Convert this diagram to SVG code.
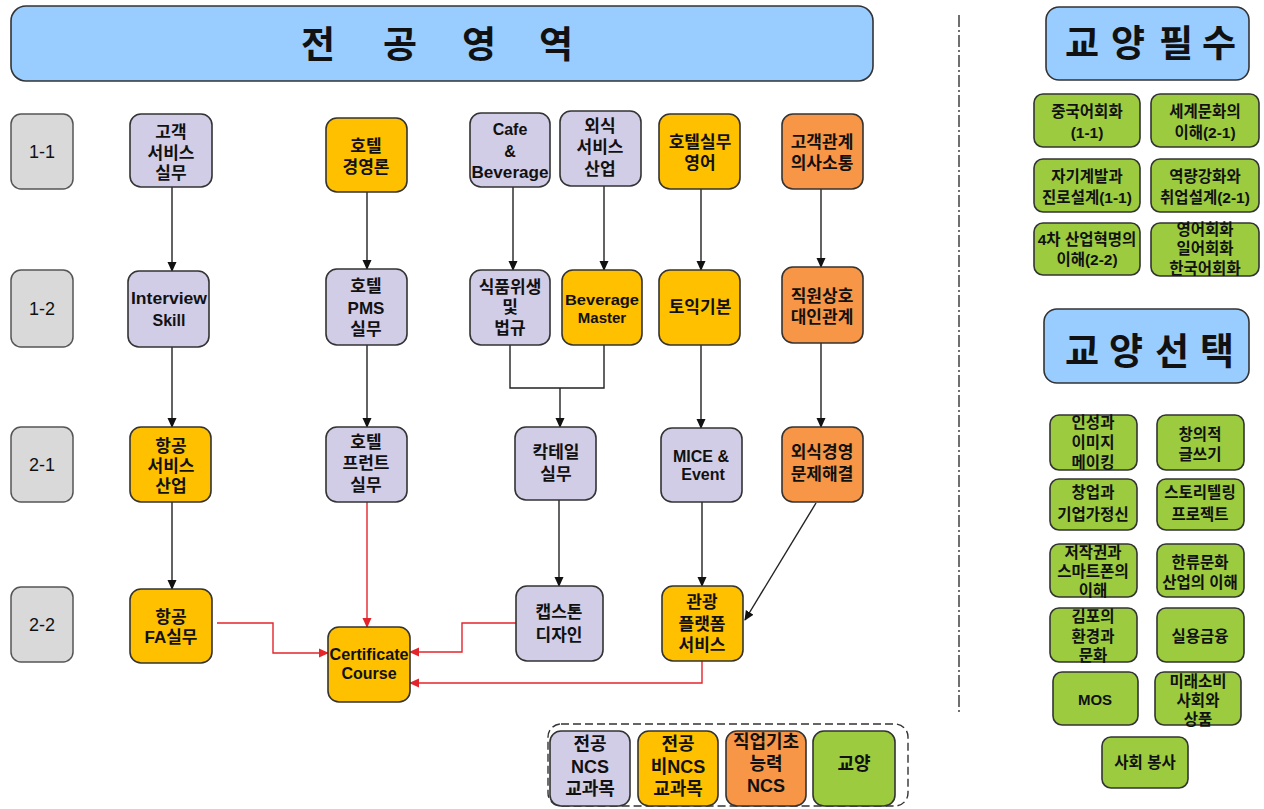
<svg xmlns="http://www.w3.org/2000/svg" width="1264" height="809" viewBox="0 0 1264 809">
<style>
.n{stroke:#333;stroke-width:1.6}
.lav{fill:#d2cde6}
.yel{fill:#ffc000}
.org{fill:#f79646}
.grn{fill:#9ccb3f}
.gray{fill:#d9d9d9;stroke:#555;stroke-width:1.5}
.blue{fill:#99ccff;stroke:#333;stroke-width:1.6}
text{font-family:"Liberation Sans","Noto Sans CJK KR",sans-serif;text-anchor:middle;fill:#111}
.t{font-size:17px;font-weight:700}
.e{font-size:16px;font-weight:700}
.g{font-size:15.5px;font-weight:700}
.L{font-size:18px;font-weight:700}
.lbl{font-size:18px}
.h{font-family:"Noto Sans CJK KR",sans-serif;font-size:37px;font-weight:700}
.k{fill:none;stroke:#222;stroke-width:1.4}
.r{fill:none;stroke:#e3242b;stroke-width:1.4}
</style>
<defs>
<marker id="ab" markerWidth="10" markerHeight="10" refX="9" refY="5" orient="auto" markerUnits="userSpaceOnUse"><path d="M0,0.5 L10,5 L0,9.5 z" fill="#111"/></marker>
<marker id="ar" markerWidth="10" markerHeight="10" refX="9" refY="5" orient="auto" markerUnits="userSpaceOnUse"><path d="M0,0.5 L10,5 L0,9.5 z" fill="#e3242b"/></marker>
</defs>

<g id="header-major"><rect class="blue" x="11" y="6" width="862" height="75" rx="15"/>
<text class="h" y="58"><tspan x="318">전</tspan><tspan x="400">공</tspan><tspan x="479">영</tspan><tspan x="556">역</tspan></text></g>

<g id="sem-1-1"><rect class="gray" x="11" y="114" width="62" height="75" rx="10"/><text class="lbl" x="42" y="158">1-1</text></g>
<g id="sem-1-2"><rect class="gray" x="11" y="270" width="62" height="77" rx="10"/><text class="lbl" x="42" y="315">1-2</text></g>
<g id="sem-2-1"><rect class="gray" x="11" y="427" width="62" height="75" rx="10"/><text class="lbl" x="42" y="471">2-1</text></g>
<g id="sem-2-2"><rect class="gray" x="11" y="587" width="62" height="75" rx="10"/><text class="lbl" x="42" y="631">2-2</text></g>

<g id="connectors">
<line class="k" x1="172" y1="187" x2="172" y2="271" marker-end="url(#ab)"/>
<line class="k" x1="172" y1="347" x2="172" y2="427" marker-end="url(#ab)"/>
<line class="k" x1="172" y1="502" x2="172" y2="589" marker-end="url(#ab)"/>
<line class="k" x1="367" y1="192" x2="367" y2="269" marker-end="url(#ab)"/>
<line class="k" x1="367" y1="345" x2="367" y2="427" marker-end="url(#ab)"/>
<line class="k" x1="513" y1="187" x2="513" y2="270" marker-end="url(#ab)"/>
<line class="k" x1="604" y1="186" x2="604" y2="270" marker-end="url(#ab)"/>
<line class="k" x1="701" y1="189" x2="701" y2="270" marker-end="url(#ab)"/>
<line class="k" x1="821" y1="189" x2="821" y2="267" marker-end="url(#ab)"/>
<polyline class="k" points="510,345 510,388 604,388 604,345"/>
<line class="k" x1="560" y1="388" x2="560" y2="427" marker-end="url(#ab)"/>
<line class="k" x1="701" y1="345" x2="701" y2="428" marker-end="url(#ab)"/>
<line class="k" x1="821" y1="343" x2="821" y2="427" marker-end="url(#ab)"/>
<line class="k" x1="559" y1="500" x2="559" y2="586" marker-end="url(#ab)"/>
<line class="k" x1="702" y1="502" x2="702" y2="586" marker-end="url(#ab)"/>
<line class="k" x1="816" y1="503" x2="745" y2="620" marker-end="url(#ab)"/>
<line class="r" x1="367" y1="502" x2="367" y2="627" marker-end="url(#ar)"/>
<polyline class="r" points="217,623 273,623 273,653 328,653" marker-end="url(#ar)"/>
<polyline class="r" points="516,623 462,623 462,652 410,652" marker-end="url(#ar)"/>
<polyline class="r" points="702,661 702,683 410,683" marker-end="url(#ar)"/>
</g>

<g id="n-gogaek"><rect class="n lav" x="130" y="114" width="82" height="73" rx="11"/><text class="t" y="138"><tspan x="171">고객</tspan><tspan x="171" dy="21">서비스</tspan><tspan x="171" dy="20">실무</tspan></text></g>
<g id="n-interview"><rect class="n lav" x="128" y="271" width="81" height="76" rx="11"/><text class="e" y="304"><tspan x="169" textLength="76" lengthAdjust="spacingAndGlyphs">Interview</tspan><tspan x="169" dy="22">Skill</tspan></text></g>
<g id="n-hanggong-service"><rect class="n yel" x="130" y="427" width="81" height="75" rx="11"/><text class="t" y="452"><tspan x="171">항공</tspan><tspan x="171" dy="20">서비스</tspan><tspan x="171" dy="20">산업</tspan></text></g>
<g id="n-fa"><rect class="n yel" x="130" y="589" width="82" height="74" rx="11"/><text class="t" y="623"><tspan x="171">항공</tspan><tspan x="171" dy="20">FA실무</tspan></text></g>

<g id="n-hotel-mgmt"><rect class="n yel" x="326" y="118" width="81" height="74" rx="11"/><text class="t" y="152"><tspan x="366">호텔</tspan><tspan x="366" dy="21">경영론</tspan></text></g>
<g id="n-pms"><rect class="n lav" x="326" y="269" width="81" height="76" rx="11"/><text class="t" y="292"><tspan x="366">호텔</tspan><tspan x="366" dy="22">PMS</tspan><tspan x="366" dy="21">실무</tspan></text></g>
<g id="n-front"><rect class="n lav" x="326" y="427" width="81" height="75" rx="11"/><text class="t" y="448"><tspan x="366">호텔</tspan><tspan x="366" dy="21">프런트</tspan><tspan x="366" dy="22">실무</tspan></text></g>
<g id="n-cert"><rect class="n yel" x="328" y="627" width="82" height="75" rx="11"/><text class="e" y="660"><tspan x="369" textLength="79" lengthAdjust="spacingAndGlyphs">Certificate</tspan><tspan x="369" dy="19">Course</tspan></text></g>

<g id="n-cafe"><rect class="n lav" x="470" y="113" width="80" height="74" rx="11"/><text class="e" y="135"><tspan x="510">Cafe</tspan><tspan x="510" dy="22">&amp;</tspan><tspan x="510" dy="21" textLength="77" lengthAdjust="spacingAndGlyphs">Beverage</tspan></text></g>
<g id="n-oesik"><rect class="n lav" x="560" y="111" width="81" height="75" rx="11"/><text class="t" y="132"><tspan x="600">외식</tspan><tspan x="600" dy="21">서비스</tspan><tspan x="600" dy="22">산업</tspan></text></g>
<g id="n-hotel-eng"><rect class="n yel" x="659" y="114" width="81" height="75" rx="11"/><text class="t" y="148"><tspan x="700">호텔실무</tspan><tspan x="700" dy="21">영어</tspan></text></g>
<g id="n-gogaek-comm"><rect class="n org" x="782" y="114" width="81" height="75" rx="11"/><text class="t" y="148"><tspan x="822">고객관계</tspan><tspan x="822" dy="21">의사소통</tspan></text></g>

<g id="n-food"><rect class="n lav" x="470" y="270" width="80" height="75" rx="11"/><text class="t" y="293"><tspan x="510">식품위생</tspan><tspan x="510" dy="20">및</tspan><tspan x="510" dy="21">법규</tspan></text></g>
<g id="n-bev-master"><rect class="n yel" x="562" y="270" width="80" height="75" rx="11"/><text class="e" y="305" style="font-size:15px"><tspan x="602" textLength="74" lengthAdjust="spacingAndGlyphs">Beverage</tspan><tspan x="602" dy="18">Master</tspan></text></g>
<g id="n-toeic"><rect class="n yel" x="659" y="270" width="81" height="75" rx="11"/><text class="t" x="700" y="313">토익기본</text></g>
<g id="n-staff"><rect class="n org" x="782" y="267" width="81" height="76" rx="11"/><text class="t" y="302"><tspan x="822">직원상호</tspan><tspan x="822" dy="21">대인관계</tspan></text></g>

<g id="n-cocktail"><rect class="n lav" x="515" y="427" width="81" height="73" rx="11"/><text class="t" y="458"><tspan x="556">칵테일</tspan><tspan x="556" dy="22">실무</tspan></text></g>
<g id="n-mice"><rect class="n lav" x="661" y="428" width="81" height="74" rx="11"/><text class="e" y="462"><tspan x="701">MICE &amp;</tspan><tspan x="703" dy="18">Event</tspan></text></g>
<g id="n-oesik-mgmt"><rect class="n org" x="782" y="427" width="81" height="75" rx="11"/><text class="t" y="458"><tspan x="822">외식경영</tspan><tspan x="822" dy="22">문제해결</tspan></text></g>

<g id="n-capstone"><rect class="n lav" x="516" y="586" width="87" height="75" rx="11"/><text class="t" y="618"><tspan x="559">캡스톤</tspan><tspan x="559" dy="23">디자인</tspan></text></g>
<g id="n-tour"><rect class="n yel" x="662" y="586" width="81" height="75" rx="11"/><text class="t" y="608"><tspan x="702">관광</tspan><tspan x="702" dy="22">플랫폼</tspan><tspan x="702" dy="21">서비스</tspan></text></g>

<line x1="959" y1="15" x2="959" y2="712" stroke="#333" stroke-width="1.4" stroke-dasharray="12 3 2 3"/>

<g id="header-required"><rect class="blue" x="1046" y="7" width="203" height="73" rx="13"/>
<text class="h" y="57"><tspan x="1082">교</tspan><tspan x="1128">양</tspan><tspan x="1176">필</tspan><tspan x="1219">수</tspan></text></g>
<g id="r1"><rect class="n grn" x="1034" y="94" width="106" height="53" rx="9"/><text class="g" y="117"><tspan x="1087">중국어회화</tspan><tspan x="1087" dy="21">(1-1)</tspan></text></g>
<g id="r2"><rect class="n grn" x="1151" y="94" width="108" height="53" rx="9"/><text class="g" y="117"><tspan x="1205">세계문화의</tspan><tspan x="1205" dy="21">이해(2-1)</tspan></text></g>
<g id="r3"><rect class="n grn" x="1034" y="159" width="106" height="53" rx="9"/><text class="g" y="182"><tspan x="1087">자기계발과</tspan><tspan x="1087" dy="21">진로설계(1-1)</tspan></text></g>
<g id="r4"><rect class="n grn" x="1151" y="159" width="108" height="53" rx="9"/><text class="g" y="182"><tspan x="1205">역량강화와</tspan><tspan x="1205" dy="21">취업설계(2-1)</tspan></text></g>
<g id="r5"><rect class="n grn" x="1034" y="223" width="106" height="52" rx="9"/><text class="g" y="245"><tspan x="1087">4차 산업혁명의</tspan><tspan x="1087" dy="20">이해(2-2)</tspan></text></g>
<g id="r6"><rect class="n grn" x="1151" y="223" width="108" height="53" rx="9"/><text class="g" y="235"><tspan x="1205">영어회화</tspan><tspan x="1205" dy="19">일어회화</tspan><tspan x="1205" dy="20">한국어회화</tspan></text></g>

<g id="header-elective"><rect class="blue" x="1044" y="309" width="205" height="74" rx="13"/>
<text class="h" y="365"><tspan x="1082">교</tspan><tspan x="1126">양</tspan><tspan x="1172">선</tspan><tspan x="1217">택</tspan></text></g>
<g id="s1"><rect class="n grn" x="1050" y="415" width="87" height="55" rx="9"/><text class="g" y="428"><tspan x="1093">인성과</tspan><tspan x="1093" dy="20">이미지</tspan><tspan x="1093" dy="20">메이킹</tspan></text></g>
<g id="s2"><rect class="n grn" x="1157" y="415" width="87" height="55" rx="9"/><text class="g" y="440"><tspan x="1200">창의적</tspan><tspan x="1200" dy="20">글쓰기</tspan></text></g>
<g id="s3"><rect class="n grn" x="1050" y="479" width="87" height="51" rx="9"/><text class="g" y="498"><tspan x="1093">창업과</tspan><tspan x="1093" dy="22">기업가정신</tspan></text></g>
<g id="s4"><rect class="n grn" x="1157" y="479" width="87" height="51" rx="9"/><text class="g" y="498"><tspan x="1200">스토리텔링</tspan><tspan x="1200" dy="22">프로젝트</tspan></text></g>
<g id="s5"><rect class="n grn" x="1050" y="544" width="87" height="53" rx="9"/><text class="g" y="558"><tspan x="1093">저작권과</tspan><tspan x="1093" dy="19">스마트폰의</tspan><tspan x="1093" dy="19">이해</tspan></text></g>
<g id="s6"><rect class="n grn" x="1157" y="544" width="87" height="53" rx="9"/><text class="g" y="568"><tspan x="1200">한류문화</tspan><tspan x="1200" dy="20">산업의 이해</tspan></text></g>
<g id="s7"><rect class="n grn" x="1050" y="608" width="87" height="54" rx="9"/><text class="g" y="622"><tspan x="1093">김포의</tspan><tspan x="1093" dy="20">환경과</tspan><tspan x="1093" dy="19">문화</tspan></text></g>
<g id="s8"><rect class="n grn" x="1157" y="608" width="87" height="54" rx="9"/><text class="g" x="1200" y="642">실용금융</text></g>
<g id="s9"><rect class="n grn" x="1053" y="672" width="85" height="53" rx="9"/><text class="e" x="1095" y="705" style="font-size:15px">MOS</text></g>
<g id="s10"><rect class="n grn" x="1155" y="672" width="86" height="53" rx="9"/><text class="g" y="687"><tspan x="1198">미래소비</tspan><tspan x="1198" dy="19">사회와</tspan><tspan x="1198" dy="19">상품</tspan></text></g>
<g id="s11"><rect class="n grn" x="1102" y="737" width="86" height="51" rx="9"/><text class="g" x="1145" y="768">사회 봉사</text></g>

<g id="legend"><rect x="548" y="724" width="360" height="82" rx="13" fill="none" stroke="#333" stroke-width="1.4" stroke-dasharray="8 4"/>
<g id="lg1"><rect class="n lav" x="550" y="731" width="80" height="75" rx="11"/><text class="L" y="750"><tspan x="590">전공</tspan><tspan x="590" dy="23">NCS</tspan><tspan x="590" dy="22">교과목</tspan></text></g>
<g id="lg2"><rect class="n yel" x="638" y="731" width="80" height="75" rx="11"/><text class="L" y="750"><tspan x="678">전공</tspan><tspan x="678" dy="23">비NCS</tspan><tspan x="678" dy="22">교과목</tspan></text></g>
<g id="lg3"><rect class="n org" x="726" y="731" width="80" height="75" rx="11"/><text class="L" y="748"><tspan x="766">직업기초</tspan><tspan x="766" dy="22">능력</tspan><tspan x="766" dy="22">NCS</tspan></text></g>
<g id="lg4"><rect class="n grn" x="813" y="731" width="82" height="75" rx="11"/><text class="L" x="854" y="770">교양</text></g>
</g>
</svg>
